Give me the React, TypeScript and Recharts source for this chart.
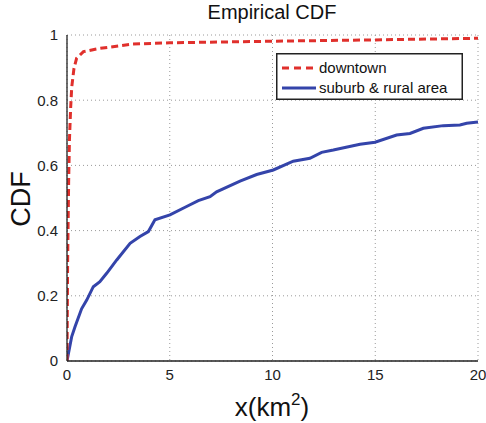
import React from 'react';
import { LineChart, Line, XAxis, YAxis, CartesianGrid } from 'recharts';

const downtownX = [0, 0.03, 0.08, 0.12, 0.18, 0.23, 0.34, 0.47, 0.8, 1.6, 3.2, 5, 10, 15, 20];
const downtownY = [0, 0.3, 0.55, 0.68, 0.78, 0.84, 0.898, 0.929, 0.949, 0.959, 0.972, 0.976, 0.981, 0.985, 0.99];

const suburbX = [0, 0.23, 0.39, 0.71, 0.96, 1.28, 1.6, 1.93, 2.42, 3.07, 3.55, 3.96, 4.28, 5.01, 5.82, 6.39, 6.96, 7.28, 8.42, 9.23, 10.04, 11.01, 11.82, 12.39, 12.96, 14.26, 14.99, 16.04, 16.69, 17.34, 18.31, 19.12, 19.45, 20];
const suburbY = [0, 0.075, 0.105, 0.16, 0.187, 0.228, 0.243, 0.269, 0.31, 0.361, 0.382, 0.397, 0.433, 0.448, 0.474, 0.492, 0.504, 0.519, 0.552, 0.572, 0.586, 0.613, 0.622, 0.64, 0.647, 0.665, 0.671, 0.693, 0.698, 0.714, 0.722, 0.724, 0.729, 0.733];

const xTicks = [0, 5, 10, 15, 20];
const yTicks = [0, 0.2, 0.4, 0.6, 0.8, 1];

const RED = '#e0302c';
const BLUE = '#3444aa';
const FONT = '"Liberation Sans", Arial, Helvetica, sans-serif';

const downtown = downtownX.map((x, i) => ({ x, y: downtownY[i] }));
const suburb = suburbX.map((x, i) => ({ x, y: suburbY[i] }));

const LegendBox = () => (
    <svg width={187} height={47} style={{ position: 'absolute', left: 276, top: 53 }}>
        <rect x={0.75} y={0.75} width={185.5} height={45.5} fill="#fff" stroke="#222" strokeWidth={1.5} />
        <line x1={6} y1={15} x2={40} y2={15} stroke={RED} strokeWidth={3} strokeDasharray="7 5" />
        <text x={43} y={20} fontSize={15} fill="#111" fontFamily={FONT}>downtown</text>
        <line x1={6} y1={35} x2={40} y2={35} stroke={BLUE} strokeWidth={3} />
        <text x={43} y={40} fontSize={15} fill="#111" fontFamily={FONT}>suburb &amp; rural area</text>
    </svg>
);

export default function App() {
    return (
        <div style={{ position: 'absolute', left: 0, top: 0, width: 486, height: 423, background: '#fff' }}>
            <LineChart
                width={486}
                height={423}
                margin={{ top: 35, right: 8, left: 7, bottom: 32 }}
                style={{ fontFamily: FONT }}
            >
                <CartesianGrid stroke="#9a9a9a" strokeDasharray="1 3" />
                <XAxis
                    type="number"
                    dataKey="x"
                    domain={[0, 20]}
                    ticks={xTicks}
                    allowDataOverflow
                    height={30}
                    tickLine={false}
                    axisLine={{ stroke: '#222', strokeWidth: 1.3 }}
                    tick={{ fontSize: 15, fill: '#222' }}
                    tickMargin={2}
                />
                <YAxis
                    type="number"
                    dataKey="y"
                    domain={[0, 1]}
                    ticks={yTicks}
                    width={60}
                    tickLine={false}
                    axisLine={{ stroke: '#222', strokeWidth: 1.3 }}
                    tick={{ fontSize: 15, fill: '#222' }}
                    tickMargin={3}
                />
                <Line
                    data={suburb}
                    dataKey="y"
                    type="linear"
                    stroke={BLUE}
                    strokeWidth={3}
                    dot={false}
                    isAnimationActive={false}
                    name="suburb & rural area"
                />
                <Line
                    data={downtown}
                    dataKey="y"
                    type="linear"
                    stroke={RED}
                    strokeWidth={3}
                    strokeDasharray="7 4"
                    dot={false}
                    isAnimationActive={false}
                    name="downtown"
                />
            </LineChart>
            <LegendBox />
            <svg width={486} height={423} style={{ position: 'absolute', left: 0, top: 0, pointerEvents: 'none' }}>
                <text x={272} y={19} textAnchor="middle" fontSize={20} fill="#111" fontFamily={FONT}>Empirical CDF</text>
                <text x={30} y={199} textAnchor="middle" fontSize={27} fill="#111" fontFamily={FONT} transform="rotate(-90 30 199)">CDF</text>
                <text x={272} y={416} textAnchor="middle" fontSize={26} fill="#111" fontFamily={FONT}>
                    x(km<tspan fontSize={17} dy={-11}>2</tspan><tspan dy={11}>)</tspan>
                </text>
            </svg>
        </div>
    );
}
